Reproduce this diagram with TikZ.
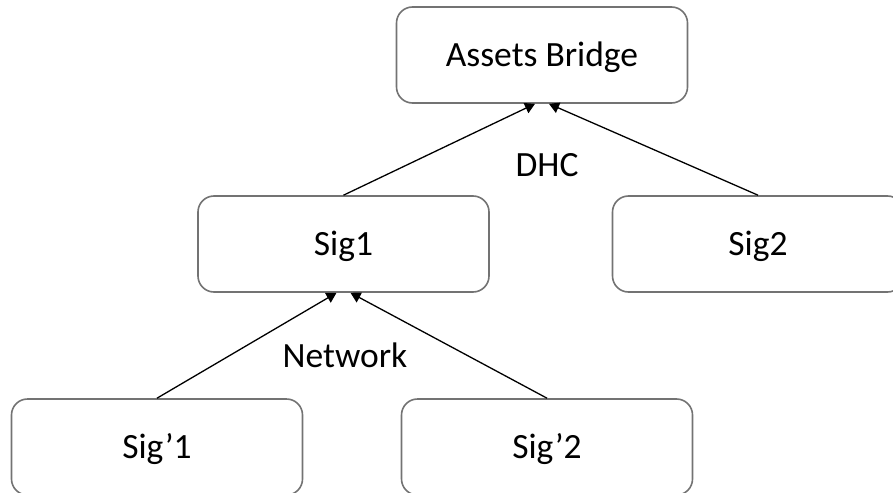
\documentclass[tikz,border=0pt]{standalone}
\usepackage{fontspec}
\setmainfont{Carlito}
\usetikzlibrary{shapes,arrows.meta}
\tikzstyle{sig} = [rectangle, draw=black!55, line width=1.6pt, rounded corners=16pt,
    minimum width=291pt, minimum height=96pt, text height=23pt, text depth=0pt]
\tikzstyle{tag} = [text height=23pt, text depth=0pt]
\tikzstyle{line} = [draw, -{Triangle[length=10pt,width=11pt]}, line width=1.3pt]

\begin{document}
\begin{tikzpicture}
[x=1pt, y=-1pt, node distance=189pt, font=\fontsize{35.5}{42}\selectfont]
    \useasboundingbox (0,0) rectangle (893,492);
    % Place nodes
    \node [sig] (bridge) at (542,55) {Assets Bridge};
    \node [sig, below of=bridge, xshift=-198.5pt] (sig1) {Sig1};
    \node [sig, below of=bridge, xshift=216pt] (sig2) {Sig2};

    \node [sig, below of=sig1, yshift=-14pt, xshift=-186.5pt] (sigp1) {Sig’1};
    \node [sig, below of=sig1, yshift=-14pt, xshift=203.5pt] (sigp2) {Sig’2};

    \node [tag] (dhc) at (547,165) {DHC};
    \node [tag] (net) at (345,356) {Network};

    % Draw edges
    \path [line] (sig1.north) -- ([xshift=-7pt]bridge.south);
    \path [line] (sig2.north) -- ([xshift=7pt]bridge.south);
    \path [line] (sigp1.north) -- ([xshift=-7pt]sig1.south);
    \path [line] (sigp2.north) -- ([xshift=7pt]sig1.south);

\end{tikzpicture}
\end{document}
